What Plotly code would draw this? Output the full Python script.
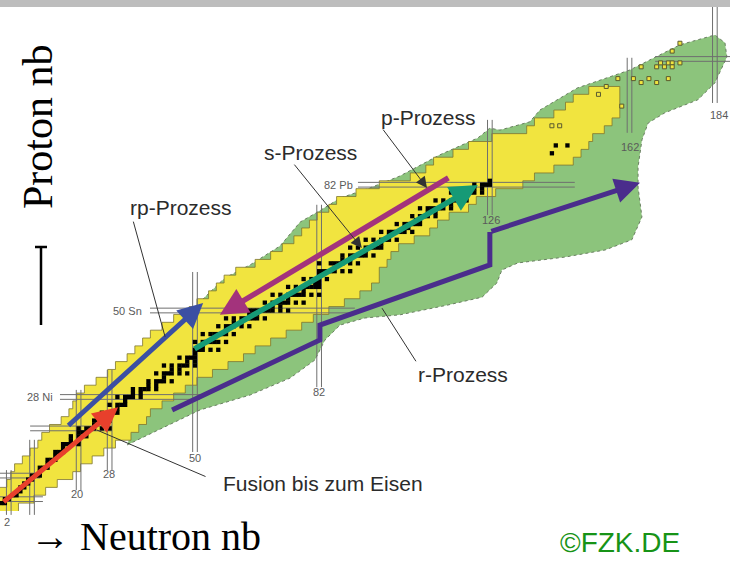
import plotly.graph_objects as go

# ---------------- data (N = neutron number, Z = proton number) ----------------
# known nuclei band (yellow): per proton row, lowest and highest neutron number
known_Z = [0, 2, 4, 6, 8, 10, 12, 14, 16, 18, 20, 22, 24, 26, 28, 30, 32, 34, 36, 38,
           40, 42, 44, 46, 48, 50, 52, 54, 56, 58, 60, 62, 64, 66, 68, 70, 72, 74, 76, 78,
           80, 82, 84, 86, 88, 90, 92, 94, 96, 98, 100, 102, 104, 106]
known_Nmin = [0, 0, 0, 2, 3, 4, 6, 8, 10, 11, 13, 16, 18, 19, 20, 22, 25, 28, 30, 33,
              35, 37, 39, 42, 45, 49, 51, 54, 56, 58, 61, 66, 70, 73, 76, 78, 80, 82, 85, 87,
              92, 98, 106, 110, 112, 117, 121, 127, 136, 138, 143, 146, 148, 152]
known_Nmax = [4, 8, 11, 14, 18, 20, 23, 26, 29, 33, 35, 37, 38, 41, 44, 47, 50, 54, 58, 62,
              65, 69, 73, 77, 80, 84, 88, 92, 95, 97, 97, 99, 100, 102, 106, 110, 112, 115, 120, 122,
              127, 134, 137, 142, 147, 149, 151, 152, 155, 157, 159, 159, 159, 159]

# predicted (r-process) region outline (green)
green_N = [32.5, 51.3, 64.2, 74.5, 80.9, 83.5, 87.4, 93.8, 102.8, 115.2, 124.0, 127.8, 129.1, 133.2,
           145.4, 155.7, 162.6, 165.2, 164.2, 164.2, 165.2, 166.8, 171.1, 179.6, 184.0, 187.1, 186.6,
           184.0, 175.0, 162.1, 148.5, 138.9, 136.3, 128.6, 126.0, 122.9, 113.1, 102.8, 95.1, 87.4,
           81.7, 77.1, 71.9, 64.2, 57.7, 51.3, 41.0]
green_Z = [15.8, 24.7, 28.5, 32.8, 37.4, 42.5, 46.3, 48.1, 48.9, 51.4, 53.4, 57.0, 60.3, 62.1,
           63.6, 65.4, 68.0, 73.8, 81.4, 86.5, 93.4, 97.7, 100.3, 103.6, 107.9, 114.5, 118.1,
           120.1, 117.6, 111.2, 106.6, 101.0, 98.0, 95.9, 96.4, 93.9, 89.6, 84.2, 81.2, 78.6,
           75.1, 72.5, 66.4, 61.6, 58.3, 52.2, 41.2]

# stable nuclides: (Z, [N ...])
stable_rows = [
    (1, [0, 1]), (2, [1, 2]), (3, [3, 4]), (4, [5]), (5, [5, 6]), (6, [6, 7]), (7, [7, 8]),
    (8, [8, 9, 10]), (9, [10]), (10, [10, 11, 12]), (11, [12]), (12, [12, 13, 14]), (13, [14]),
    (14, [14, 15, 16]), (15, [16]), (16, [16, 17, 18, 20]), (17, [18, 20]), (18, [18, 20, 22]),
    (19, [20, 21, 22]), (20, [20, 22, 23, 24, 26, 28]), (21, [24]), (22, [24, 25, 26, 27, 28]),
    (23, [27, 28]), (24, [26, 28, 29, 30]), (25, [30]), (26, [28, 30, 31, 32]), (27, [32]),
    (28, [30, 32, 33, 34, 36]), (29, [34, 36]), (30, [34, 36, 37, 38, 40]), (31, [38, 40]),
    (32, [38, 40, 41, 42, 44]), (33, [42]), (34, [40, 42, 43, 44, 46, 48]), (35, [44, 46]),
    (36, [42, 44, 46, 47, 48, 50]), (37, [48, 50]), (38, [46, 48, 49, 50]), (39, [50]),
    (40, [50, 51, 52, 54, 56]), (41, [52]), (42, [50, 52, 53, 54, 55, 56, 58]),
    (44, [52, 54, 55, 56, 57, 58, 60]), (45, [58]), (46, [56, 58, 59, 60, 62, 64]), (47, [60, 62]),
    (48, [58, 60, 62, 63, 64, 65, 66, 68]), (49, [64, 66]),
    (50, [62, 64, 65, 66, 67, 68, 69, 70, 72, 74]), (51, [70, 72]),
    (52, [68, 70, 71, 72, 73, 74, 76, 78]), (53, [74]), (54, [70, 72, 74, 75, 76, 77, 78, 80, 82]),
    (55, [78]), (56, [74, 76, 78, 79, 80, 81, 82]), (57, [81, 82]), (58, [78, 80, 82, 84]),
    (59, [82]), (60, [82, 83, 84, 85, 86, 88, 90]), (62, [82, 85, 86, 87, 88, 90, 92]),
    (63, [88, 90]), (64, [88, 90, 91, 92, 93, 94, 96]), (65, [94]), (66, [90, 92, 94, 95, 96, 97, 98]),
    (67, [98]), (68, [94, 96, 98, 99, 100, 102]), (69, [100]), (70, [98, 100, 101, 102, 103, 104, 106]),
    (71, [104, 105]), (72, [102, 104, 105, 106, 107, 108]), (73, [107, 108]),
    (74, [106, 108, 109, 110, 112]), (75, [110, 112]), (76, [108, 110, 111, 112, 113, 114, 116]),
    (77, [114, 116]), (78, [112, 114, 116, 117, 118, 120]), (79, [118]),
    (80, [116, 118, 119, 120, 121, 122, 124]), (81, [122, 124]), (82, [122, 124, 125, 126]),
    (83, [126]), (90, [142]), (92, [143, 146]),
]

# superheavy nuclei (open squares)
sh_N = [175, 173, 170, 172, 173, 175, 165, 169, 171, 173, 163, 167, 172, 165, 169, 154, 160, 142, 144, 159, 156]
sh_Z = [118, 116, 113, 113, 113, 113, 112, 112, 112, 112, 109, 109, 109, 108, 108, 105, 102, 97, 97, 109, 107]

# magic numbers (double lines) with their extents
magicN_vals = [2, 8, 20, 28, 50, 82, 126, 162, 184]
magicN_zlo = [-2.0, -2.0, 4.3, 9.4, 14.0, 30.5, 74.3, 95.2, 102.8]
magicN_zhi = [9.4, 17.1, 29.8, 34.9, 59.8, 76.9, 98.5, 114.3, 127.7]
magicZ_vals = [2, 8, 20, 28, 50, 82, 114]
magicZ_nlo = [-0.3, -0.3, 7.5, 15.2, 38.4, 92.0, 168.6]
magicZ_nhi = [10.8, 10.1, 28.6, 51.3, 91.2, 147.9, 187.9]

magicN_labels = ["2", "20", "28", "50", "82", "126", "162", "184"]
magicN_lab_N = [1.5, 19.6, 27.8, 50.0, 82.0, 126.3, 162.0, 185.0]
magicN_lab_Z = [-3.8, 3.4, 8.4, 12.4, 29.2, 73.0, 91.6, 99.8]
magicZ_labels = ["28 Ni", "50 Sn", "82 Pb"]
magicZ_lab_N = [10.1, 32.7, 86.9]
magicZ_lab_Z = [28.0, 50.0, 82.0]

# process paths (tail N, tail Z, head N, head Z)
fusion_path = [0.3, 1.0, 30.2, 25.4]
rp_path = [17.0, 20.4, 52.1, 51.9]
p_path = [115.7, 84.0, 56.4, 48.9]
s_path = [49.5, 40.0, 122.9, 81.9]
r_N = [44.1, 82.2, 82.2, 126.0, 126.0, 164.7]
r_Z = [24.7, 42.5, 46.3, 61.6, 70.0, 82.5]

# process labels and leader lines
labels = ["p-Prozess", "s-Prozess", "rp-Prozess", "r-Prozess", "Fusion bis zum Eisen"]
label_N = [110.1, 79.9, 46.4, 119.1, 83.0]
label_Z = [99.2, 90.3, 76.3, 33.6, 5.9]
leader_from_N = [98.2, 75.3, 34.0, 107.2, 53.1]
leader_from_Z = [96.4, 87.5, 73.0, 36.7, 7.6]
leader_to_N = [109.8, 93.0, 42.3, 98.2, 24.7]
leader_to_Z = [81.2, 65.9, 43.3, 50.6, 19.6]
leader_head = [True, True, False, False, False]

# ---------------- figure ----------------
W, H = 730, 563
fig = go.Figure()

fig.add_trace(go.Scatter(x=green_N, y=green_Z, mode="lines", fill="toself",
                         fillcolor="#8cc47c", line=dict(color="#6a7f62", width=1, dash="dot"),
                         hoverinfo="skip"))

yx, yy = [], []
for z, nmin in zip(known_Z, known_Nmin):
    yx += [nmin - 0.5, nmin - 0.5]
    yy += [z - 1, z + 1]
for z, nmax in zip(known_Z[::-1], known_Nmax[::-1]):
    yx += [nmax + 0.5, nmax + 0.5]
    yy += [z + 1, z - 1]
fig.add_trace(go.Scatter(x=yx, y=yy, mode="lines", fill="toself", fillcolor="#f1e43f",
                         line=dict(color="#7d7530", width=0.8), hoverinfo="skip"))

# magic double lines
mx, my = [], []
for v, lo, hi in zip(magicN_vals, magicN_zlo, magicN_zhi):
    for d in (-0.6, 0.6):
        mx += [v + d, v + d, None]
        my += [lo, hi, None]
for v, lo, hi in zip(magicZ_vals, magicZ_nlo, magicZ_nhi):
    for d in (-0.6, 0.6):
        mx += [lo, hi, None]
        my += [v + d, v + d, None]
fig.add_trace(go.Scatter(x=mx, y=my, mode="lines", line=dict(color="#6f6f6f", width=1),
                         hoverinfo="skip"))

sN, sZ = [], []
for z, ns in stable_rows:
    for n in ns:
        sN.append(n)
        sZ.append(z)
fig.add_trace(go.Scatter(x=sN, y=sZ, mode="markers",
                         marker=dict(symbol="square", size=4.3, color="black"), hoverinfo="skip"))

fig.add_trace(go.Scatter(x=sh_N, y=sh_Z, mode="markers",
                         marker=dict(symbol="square", size=4, color="#f1e43f",
                                     line=dict(color="#5a5a30", width=1)), hoverinfo="skip"))

# r-process polyline (last segment as an arrow)
fig.add_trace(go.Scatter(x=r_N[:-1], y=r_Z[:-1], mode="lines",
                         line=dict(color="#4a2d8c", width=5), hoverinfo="skip"))

ann = []

def arrow(path, color, width):
    return dict(x=path[2], y=path[3], ax=path[0], ay=path[1], xref="x", yref="y",
                axref="x", ayref="y", showarrow=True, arrowhead=2, arrowsize=1.0,
                arrowwidth=width, arrowcolor=color, text="", standoff=0)

ann.append(arrow(fusion_path, "#e8402c", 5))
ann.append(arrow(rp_path, "#3b4fa3", 5))
ann.append(arrow(p_path, "#a3337c", 5.5))
ann.append(arrow(s_path, "#169a76", 5.5))
ann.append(arrow([r_N[-2], r_Z[-2], r_N[-1], r_Z[-1]], "#4a2d8c", 5))

for i in range(len(labels)):
    ann.append(dict(x=leader_to_N[i], y=leader_to_Z[i], ax=leader_from_N[i], ay=leader_from_Z[i],
                    xref="x", yref="y", axref="x", ayref="y", showarrow=True,
                    arrowhead=2 if leader_head[i] else 0, arrowsize=2.2, arrowwidth=1,
                    arrowcolor="#333333", text="", standoff=0))
    ann.append(dict(x=label_N[i], y=label_Z[i], xref="x", yref="y", text=labels[i],
                    showarrow=False, xanchor="center", yanchor="middle",
                    font=dict(family="Liberation Sans", size=21, color="#2b2b2b")))

for t, n, z in zip(magicN_labels, magicN_lab_N, magicN_lab_Z):
    ann.append(dict(x=n, y=z, xref="x", yref="y", text=t, showarrow=False,
                    xanchor="center", yanchor="middle",
                    font=dict(family="Liberation Sans", size=11, color="#5a5a5a")))
for t, n, z in zip(magicZ_labels, magicZ_lab_N, magicZ_lab_Z):
    ann.append(dict(x=n, y=z, xref="x", yref="y", text=t, showarrow=False,
                    xanchor="center", yanchor="middle",
                    font=dict(family="Liberation Sans", size=11, color="#5a5a5a")))

ann.append(dict(x=38 / W, y=1 - 127 / H, xref="paper", yref="paper", text="Proton nb",
                textangle=-90, showarrow=False, xanchor="center", yanchor="middle",
                font=dict(family="Liberation Serif", size=42, color="black")))
ann.append(dict(x=145 / W, y=1 - 536 / H, xref="paper", yref="paper", text="→ Neutron nb",
                showarrow=False, xanchor="center", yanchor="middle",
                font=dict(family="Liberation Serif", size=40, color="black")))
ann.append(dict(x=620 / W, y=1 - 542 / H, xref="paper", yref="paper", text="©FZK.DE",
                showarrow=False, xanchor="center", yanchor="middle",
                font=dict(family="Liberation Sans", size=28, color="#179317")))

shapes = [
    dict(type="rect", xref="paper", yref="paper", x0=0, x1=1, y0=1 - 7 / H, y1=1,
         fillcolor="#bdbdbd", line=dict(width=0), layer="above"),
    dict(type="line", xref="paper", yref="paper", x0=41 / W, x1=41 / W,
         y0=1 - 325 / H, y1=1 - 246 / H, line=dict(color="black", width=2.5)),
    dict(type="line", xref="paper", yref="paper", x0=35 / W, x1=47 / W,
         y0=1 - 247 / H, y1=1 - 247 / H, line=dict(color="black", width=2.5)),
]

fig.update_layout(
    width=W, height=H, margin=dict(l=0, r=0, t=0, b=0),
    paper_bgcolor="white", plot_bgcolor="white", showlegend=False,
    xaxis=dict(range=[-0.26, 187.9], visible=False, fixedrange=True),
    yaxis=dict(range=[-14.24, 129.0], visible=False, fixedrange=True),
    annotations=ann, shapes=shapes,
)

fig.write_html("out.html", config={"displayModeBar": False},
               post_script="document.body.style.margin='0';document.body.style.padding='0';")
